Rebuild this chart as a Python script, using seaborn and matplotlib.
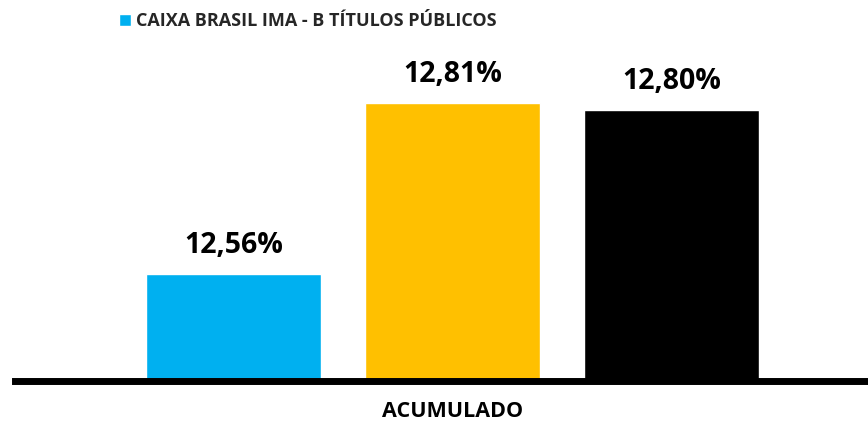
import pandas as pd
import matplotlib.pyplot as plt
import seaborn as sns

# ── Data ───────────────────────────────────────────────────────────────
PERIODO = ["ACUMULADO", "ACUMULADO", "ACUMULADO"]
SERIES  = ["CAIXA BRASIL IMA - B TÍTULOS PÚBLICOS", "Série 2", "Série 3"]
VALORES = [12.56, 12.81, 12.80]
CORES   = ["#00B0F0", "#FFC000", "#000000"]

# ── Style ──────────────────────────────────────────────────────────────
sns.set_theme(style="white")
plt.rcParams["font.family"] = ["Open Sans", "DejaVu Sans"]

df = pd.DataFrame({"periodo": PERIODO, "serie": SERIES, "valor": VALORES})

W, H = 868, 422
fig = plt.figure(figsize=(W / 100, H / 100), dpi=100)
# plot area runs past the right edge of the picture, like the cropped original
ax = fig.add_axes([15 / W, 41.5 / H, 875 / W, 339 / H])

sns.barplot(data=df, x="periodo", y="valor", hue="serie", palette=CORES,
            width=0.751, gap=0.2, saturation=1, ax=ax, legend=True)

ax.set_xlim(-0.5, 0.5)
ax.set_ylim(12.405, 12.90)

for cont in ax.containers:
    ax.bar_label(cont, labels=[f"{v:.2f}%".replace(".", ",") for v in cont.datavalues],
                 padding=10, fontsize=20.5, fontweight="bold", color="black")

# axes cosmetics
for s in ["top", "right", "left"]:
    ax.spines[s].set_visible(False)
ax.spines["bottom"].set_color("black")
ax.spines["bottom"].set_linewidth(5)
ax.set_yticks([])
ax.set_xlabel(""); ax.set_ylabel("")
ax.tick_params(axis="x", length=0, pad=15, labelsize=15.5)
for t in ax.get_xticklabels():
    t.set_fontweight("bold")
    t.set_color("black")

# legend shows only the fund
handles, labels = ax.get_legend_handles_labels()
ax.get_legend().remove()
fig.legend(handles[:1], labels[:1], loc="center left",
           bbox_to_anchor=(119 / W, 1 - 21.5 / H), frameon=False,
           prop={"size": 13, "weight": "bold"}, handlelength=0.65, handleheight=0.65,
           handletextpad=0.3, borderpad=0, borderaxespad=0)

fig.savefig("out.png", dpi=100)
